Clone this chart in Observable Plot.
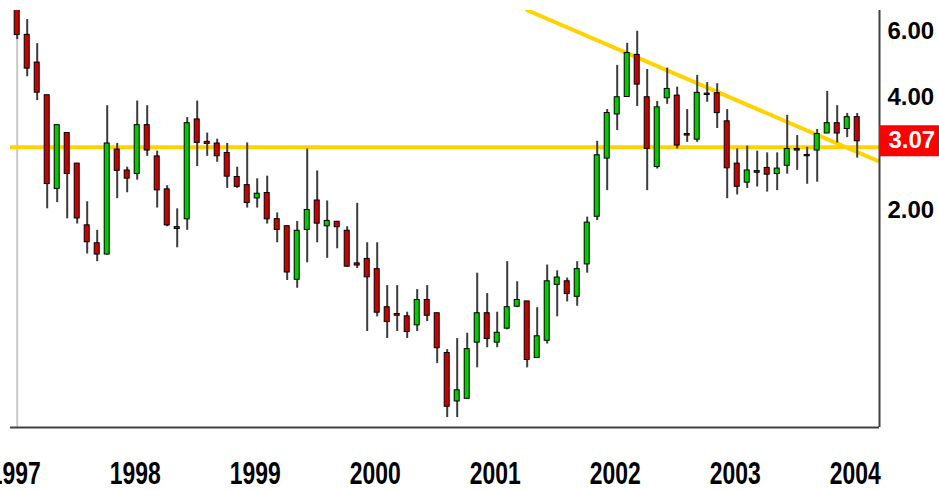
<!DOCTYPE html>
<html>
<head>
<meta charset="utf-8">
<script src="https://cdn.jsdelivr.net/npm/d3@7"></script>
<script src="https://cdn.jsdelivr.net/npm/@observablehq/plot@0.6"></script>
<style>
  html, body { margin: 0; padding: 0; background: #fff; }
  #chart svg { display: block; }
  svg g[aria-label="y-axis tick label"] { font: bold 24px "Liberation Sans", Arial, sans-serif; fill: #000; }
  svg g[aria-label="x-axis tick label"] { font: bold 31px "Liberation Sans", Arial, sans-serif; fill: #000; }
</style>
</head>
<body>
<div id="chart"></div>
<script>
// Monthly candles, Jan 1997 .. Jan 2004
const high  = [7.40,6.47,5.58,4.06,3.38,3.22,2.67,2.11,1.77,3.81,3.02,2.61,
               3.92,3.81,2.88,2.33,2.02,3.54,3.92,3.22,3.10,3.02,2.61,3.03,
               2.43,2.47,1.97,1.82,1.87,2.92,2.55,2.12,1.87,1.81,2.09,1.64,
               1.64,1.26,1.26,1.07,1.23,1.26,1.06,0.85,0.91,0.94,1.36,1.20,
               1.07,1.46,1.29,1.14,1.10,1.43,1.38,1.32,1.46,1.92,3.06,3.72,
               4.88,5.59,6.02,4.76,3.91,4.80,4.27,3.72,4.59,4.39,4.36,3.72,
               2.92,2.97,2.88,2.85,2.85,3.59,3.17,2.95,3.29,4.16,3.81,3.63,
               3.63];
const open  = [7.10,5.87,4.95,4.05,2.29,3.21,2.66,1.82,1.63,1.53,2.90,2.55,
               2.51,3.37,2.78,2.27,1.80,1.90,3.49,3.04,3.01,2.84,2.45,2.33,
               2.16,2.22,1.89,1.81,1.31,1.78,2.12,1.82,1.86,1.76,1.44,1.48,
               1.39,1.10,1.055,1.04,0.99,1.15,1.06,0.83,0.62,0.63,0.89,1.06,
               0.89,0.97,1.11,1.14,0.81,0.90,1.27,1.29,1.18,1.44,1.93,2.76,
               3.62,4.03,5.19,4.00,2.62,4.00,4.04,3.19,3.10,4.09,4.10,3.45,
               2.66,2.38,2.54,2.59,2.51,2.64,2.91,2.805,2.90,3.22,3.41,3.31,
               3.54];
const close = [5.90,4.80,4.14,2.36,3.37,2.51,1.91,1.65,1.53,3.01,2.56,2.44,
               3.37,2.90,2.27,1.83,1.79,3.41,3.04,3.02,2.80,2.47,2.32,2.10,
               2.21,1.90,1.78,1.37,1.76,2.00,1.85,1.87,1.81,1.42,1.43,1.33,
               1.07,1.01,1.05,0.95,1.15,1.05,0.86,0.60,0.66,0.85,1.06,0.91,
               0.94,1.10,1.15,0.80,0.92,1.29,1.32,1.20,1.39,1.85,2.80,3.63,
               4.00,5.25,4.35,2.93,3.76,4.21,2.99,3.18,4.11,4.08,3.65,2.60,
               2.32,2.55,2.53,2.50,2.58,2.91,2.90,2.80,3.19,3.41,3.22,3.54,
               3.07];
const low   = [5.72,4.55,3.93,2.02,2.10,1.90,1.84,1.53,1.46,1.52,2.15,2.23,
               2.41,2.79,2.03,1.81,1.59,1.77,2.62,2.79,2.69,2.29,2.29,2.03,
               2.03,1.84,1.64,1.30,1.24,1.45,1.64,1.49,1.58,1.41,1.40,0.95,
               1.04,0.91,0.95,0.91,0.95,1.01,0.78,0.56,0.56,0.63,0.76,0.86,
               0.86,0.96,1.10,0.76,0.81,0.88,1.04,1.14,1.11,1.36,1.88,2.26,
               3.27,4.02,3.79,2.26,2.58,3.84,2.92,3.04,3.04,3.89,3.31,2.15,
               2.20,2.29,2.31,2.24,2.26,2.50,2.56,2.35,2.38,3.21,3.03,3.13,
               2.76];

const yearLabels = ["1997","1998","1999","2000","2001","2002","2003","2004"];
const priceTicks = [2, 4, 6];
const supportLevel = 2.95;
const trendMonths = [51, 86.23];
const trendValues = [6.85, 2.70];

const data = close.map((c, i) => ({i, open: open[i], high: high[i], low: low[i], close: c}));
const trend = trendMonths.map((m, j) => ({m, v: trendValues[j]}));
const lastClose = close[close.length - 1];
const xDomain = [-0.67, 86.23];
const yDomain = [0.5266, 6.84];
const fmt = d3.format(".2f");

const chart = Plot.plot({
  width: 939,
  height: 490,
  marginLeft: 10,
  marginRight: 60,
  marginTop: 10,
  marginBottom: 63,
  x: {domain: xDomain},
  y: {type: "log", domain: yDomain},
  style: {fontFamily: "'Liberation Sans', Arial, sans-serif", background: "white"},
  marks: [
    Plot.ruleX([xDomain[0] + 0.67], {stroke: "#c8c8c8", strokeWidth: 2}),
    Plot.ruleY([supportLevel], {stroke: "#ffd200", strokeWidth: 4}),
    Plot.line(trend, {x: "m", y: "v", stroke: "#ffd200", strokeWidth: 4, clip: true}),
    Plot.ruleX(data, {x: "i", y1: "low", y2: "high", stroke: "#3c3c3c", strokeWidth: 2, clip: true}),
    Plot.rect(data, {
      x1: d => d.i - 0.25, x2: d => d.i + 0.25,
      y1: "open", y2: "close",
      fill: d => d.close >= d.open ? "#00cc00" : "#cc0000",
      stroke: "#000", strokeWidth: 1,
      insetTop: -0.5, insetBottom: -0.5,
      clip: true
    }),
    Plot.ruleY([yDomain[0]], {stroke: "#404040", strokeWidth: 2}),
    Plot.ruleX([xDomain[1]], {stroke: "#404040", strokeWidth: 2}),
    Plot.axisY({anchor: "right", ticks: priceTicks, tickFormat: fmt, tickSize: 0, tickPadding: 8, fontSize: 24, fontWeight: "bold", label: null}),
    Plot.ruleY([lastClose], {x1: xDomain[1], x2: xDomain[1] + 6, stroke: "#ff0000", strokeWidth: 31}),
    Plot.text([lastClose], {x: xDomain[1], y: d => d, text: d => fmt(d), dx: 9, textAnchor: "start", fill: "white", fontSize: 24, fontWeight: "bold"}),
    Plot.axisX({ticks: yearLabels.map((_, j) => j * 12), tickFormat: d => yearLabels[Math.round(d / 12)], tickSize: 0, tickPadding: 56, fontSize: 31, fontWeight: "bold", label: null})
  ]
});

document.getElementById("chart").appendChild(chart);

// condense the year labels horizontally (tall, narrow digits as in the reference)
d3.select(chart).selectAll('g[aria-label="x-axis tick label"] text').each(function() {
  const t = this.getAttribute("transform") || "";
  const x = +this.getAttribute("x") || 0, y = +this.getAttribute("y") || 0;
  this.removeAttribute("x"); this.removeAttribute("y");
  this.setAttribute("transform", `${t} translate(${x - 2},${y}) scale(0.74,1)`);
});
</script>
</body>
</html>
